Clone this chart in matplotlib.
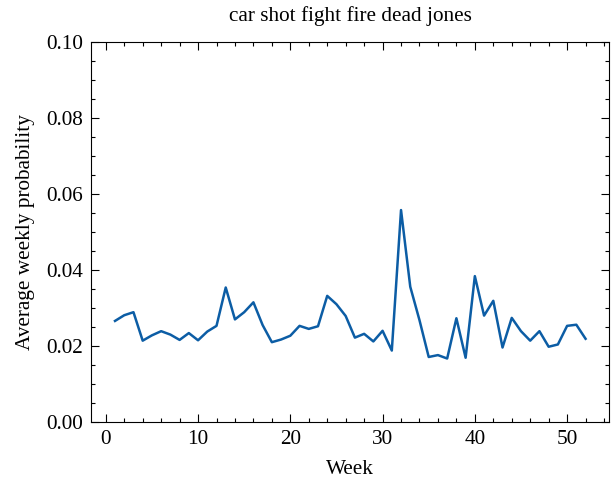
import matplotlib
matplotlib.use("Agg")
import matplotlib.pyplot as plt
from matplotlib.ticker import MultipleLocator

# average weekly topic probability
weeks = list(range(1, 53))
prob = [0.0266, 0.0281, 0.0289, 0.0214, 0.0228, 0.0239, 0.0230, 0.0216, 0.0234, 0.0215,
        0.0238, 0.0253, 0.0354, 0.0270, 0.0289, 0.0315, 0.0255, 0.0210, 0.0217, 0.0227,
        0.0253, 0.0245, 0.0252, 0.0332, 0.0310, 0.0279, 0.0222, 0.0232, 0.0212, 0.0240,
        0.0188, 0.0558, 0.0356, 0.0268, 0.0171, 0.0176, 0.0167, 0.0273, 0.0169, 0.0384,
        0.0280, 0.0319, 0.0196, 0.0274, 0.0239, 0.0214, 0.0239, 0.0198, 0.0204, 0.0253,
        0.0256, 0.0219]
topic = "car shot fight fire dead jones"

plt.rcParams['font.family'] = ['Liberation Serif', 'DejaVu Serif']
plt.rcParams['mathtext.fontset'] = 'dejavuserif'
plt.rcParams['font.size'] = 15.3

fig = plt.figure(figsize=(6.14, 4.8), dpi=100)
ax = fig.add_axes([0.149, 0.121, 0.843, 0.791])
ax.plot(weeks, prob, color='#0C5DA5', lw=1.8)

ax.set_ylim(0, 0.1)
ax.set_title(topic, fontsize=15.3, pad=15)
ax.set_xlabel('Week', labelpad=8)
ax.set_ylabel('Average weekly probability', labelpad=8)

# ticks on all four sides, pointing in
ax.xaxis.set_minor_locator(MultipleLocator(2))
ax.yaxis.set_minor_locator(MultipleLocator(0.005))
ax.yaxis.set_major_locator(MultipleLocator(0.02))
ax.yaxis.set_major_formatter(plt.FormatStrFormatter('%.2f'))
ax.tick_params(which='both', direction='in', top=True, right=True, width=0.8)
ax.tick_params(which='major', length=6, pad=6)
ax.tick_params(which='minor', length=3)
for s in ax.spines.values():
    s.set_linewidth(0.8)

fig.savefig('out.png', dpi=100)
